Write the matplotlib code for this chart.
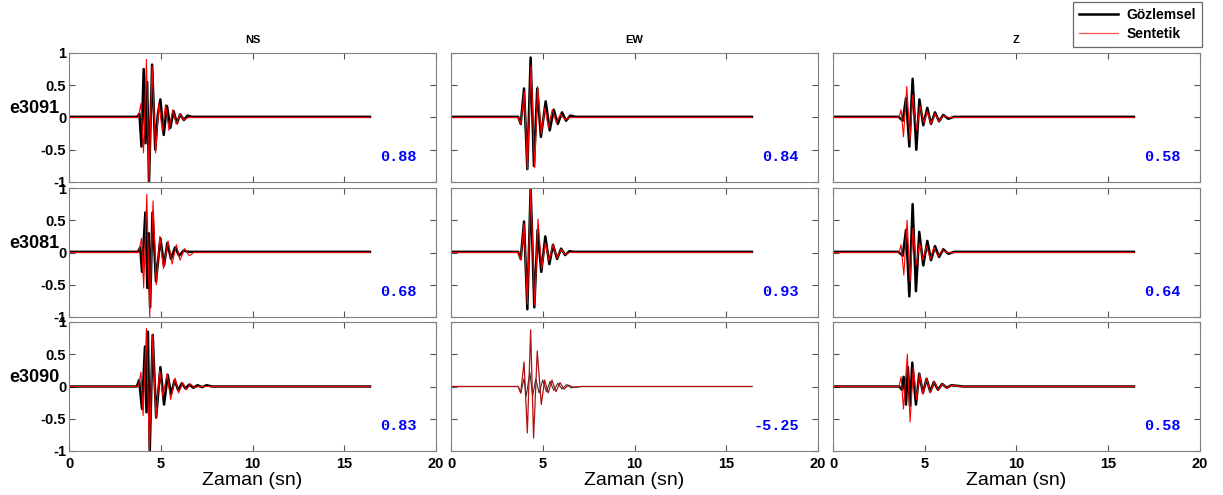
import matplotlib
matplotlib.use("Agg")
import matplotlib.pyplot as plt
from matplotlib.lines import Line2D

plt.rcParams['font.family'] = ['Liberation Sans', 'DejaVu Sans']

stations = ["e3091", "e3081", "e3090"]
components = ["NS", "EW", "Z"]
fits = [["0.88", "0.84", "0.58"],
        ["0.68", "0.93", "0.64"],
        ["0.83", "-5.25", "0.58"]]
t_end = 16.4

# e3091 - NS
e3091_ns_obs_t = [0, 3.72, 3.84, 3.95, 4.07, 4.17, 4.26, 4.36, 4.53, 4.70, 4.84, 4.98, 5.16, 5.34, 5.52, 5.70, 5.88, 6.06, 6.26, 6.46, 6.70, t_end]
e3091_ns_obs_y = [0.01, 0.01, 0.06, -0.45, 0.75, -0.40, 0.55, -1.0, 0.82, -0.50, 0.05, 0.28, -0.27, 0.18, -0.16, 0.10, -0.09, 0.05, -0.04, 0.03, 0.01, 0.01]
e3091_ns_syn_t = [0, 3.78, 3.92, 4.06, 4.22, 4.36, 4.53, 4.72, 4.90, 5.08, 5.26, 5.45, 5.65, 5.85, 6.05, 6.25, 6.50, t_end]
e3091_ns_syn_y = [0, 0, 0.22, -0.55, 0.90, -1.0, 0.80, -0.55, 0.22, -0.20, 0.20, -0.20, 0.12, -0.10, 0.06, -0.04, 0, 0]
# e3091 - EW
e3091_ew_obs_t = [0, 3.66, 3.80, 3.98, 4.16, 4.34, 4.52, 4.70, 4.90, 5.16, 5.38, 5.60, 5.82, 6.05, 6.27, 6.50, 6.80, t_end]
e3091_ew_obs_y = [0.01, 0.01, -0.10, 0.45, -0.80, 0.93, -0.75, 0.45, -0.30, 0.25, -0.20, 0.12, -0.10, 0.08, -0.05, 0.03, 0.01, 0.01]
e3091_ew_syn_t = [0, 3.66, 3.80, 4.00, 4.16, 4.36, 4.56, 4.72, 4.92, 5.12, 5.30, 5.52, 5.74, 5.96, 6.20, 6.50, t_end]
e3091_ew_syn_y = [0, 0, -0.10, 0.40, -0.80, 0.80, -0.78, 0.48, -0.25, 0.15, -0.15, 0.12, -0.08, 0.05, -0.03, 0, 0]
# e3091 - Z
e3091_z_obs_t = [0, 3.57, 3.80, 3.98, 4.16, 4.34, 4.54, 4.71, 4.92, 5.14, 5.34, 5.56, 5.78, 6.01, 6.28, 6.60, t_end]
e3091_z_obs_y = [0.01, 0.01, -0.05, 0.30, -0.45, 0.60, -0.50, 0.28, -0.12, 0.15, -0.10, 0.08, -0.06, 0.04, -0.02, 0.01, 0.01]
e3091_z_syn_t = [0, 3.60, 3.71, 3.84, 4.02, 4.20, 4.34, 4.56, 4.74, 4.96, 5.14, 5.34, 5.56, 5.78, 6.01, 6.30, t_end]
e3091_z_syn_y = [0, 0, 0.12, -0.30, 0.48, -0.35, 0.35, -0.20, 0.18, -0.08, 0.10, -0.10, 0.06, -0.06, 0.03, 0, 0]

# e3081 - NS
e3081_ns_obs_t = [0, 3.76, 3.88, 3.98, 4.16, 4.27, 4.34, 4.42, 4.55, 4.74, 4.98, 5.18, 5.36, 5.56, 5.78, 6.00, 6.25, 6.50, t_end]
e3081_ns_obs_y = [0.01, 0.01, 0.08, -0.30, 0.62, -0.55, 0.30, -0.85, 0.62, -0.45, 0.22, -0.20, 0.15, -0.10, 0.08, -0.05, 0.03, 0.01, 0.01]
e3081_ns_syn_t = [0, 3.80, 3.95, 4.07, 4.24, 4.40, 4.58, 4.76, 4.95, 5.15, 5.40, 5.62, 5.85, 6.05, 6.30, 6.55, 6.80, t_end]
e3081_ns_syn_y = [0, 0, 0.22, -0.55, 0.90, -1.0, 0.80, -0.50, 0.25, -0.25, 0.18, -0.18, 0.12, -0.12, 0.06, -0.05, 0, 0]
# e3081 - EW
e3081_ew_obs_t = [0, 3.66, 3.80, 3.98, 4.16, 4.34, 4.54, 4.72, 4.92, 5.14, 5.36, 5.56, 5.78, 6.00, 6.22, 6.45, 6.70, t_end]
e3081_ew_obs_y = [0.01, 0.01, -0.10, 0.48, -0.88, 1.0, -0.85, 0.35, -0.30, 0.25, -0.18, 0.12, -0.10, 0.06, -0.04, 0.02, 0.01, 0.01]
e3081_ew_syn_t = [0, 3.66, 3.80, 3.98, 4.16, 4.34, 4.56, 4.74, 4.94, 5.14, 5.34, 5.56, 5.78, 6.00, 6.22, 6.45, t_end]
e3081_ew_syn_y = [0, 0, -0.12, 0.45, -0.80, 0.98, -0.82, 0.52, -0.25, 0.15, -0.12, 0.12, -0.08, 0.05, -0.03, 0, 0]
# e3081 - Z
e3081_z_obs_t = [0, 3.57, 3.80, 3.98, 4.16, 4.34, 4.52, 4.70, 4.92, 5.14, 5.34, 5.56, 5.78, 6.01, 6.28, 6.60, t_end]
e3081_z_obs_y = [0.01, 0.01, -0.05, 0.35, -0.68, 0.75, -0.60, 0.32, -0.20, 0.18, -0.12, 0.10, -0.07, 0.05, -0.02, 0.01, 0.01]
e3081_z_syn_t = [0, 3.60, 3.71, 3.86, 4.04, 4.20, 4.36, 4.54, 4.72, 4.90, 5.10, 5.30, 5.50, 5.72, 5.95, 6.20, t_end]
e3081_z_syn_y = [0, 0, 0.12, -0.35, 0.50, -0.45, 0.38, -0.20, 0.15, -0.12, 0.10, -0.10, 0.08, -0.06, 0.04, 0, 0]

# e3090 - NS
e3090_ns_obs_t = [0, 3.70, 3.82, 3.98, 4.14, 4.22, 4.30, 4.40, 4.56, 4.75, 4.98, 5.18, 5.38, 5.56, 5.76, 5.95, 6.15, 6.35, 6.55, 6.78, 7.00, 7.25, 7.50, 7.80, t_end]
e3090_ns_obs_y = [0, 0, 0.10, -0.35, 0.62, -0.40, 0.85, -1.0, 0.80, -0.48, 0.30, -0.28, 0.18, -0.12, 0.10, -0.06, 0.05, -0.03, 0.03, -0.02, 0.02, -0.01, 0.02, 0, 0]
e3090_ns_syn_t = [0, 3.78, 3.92, 4.04, 4.22, 4.38, 4.56, 4.74, 4.94, 5.12, 5.34, 5.54, 5.78, 5.98, 6.20, 6.40, 6.62, 6.85, 7.10, 7.80, t_end]
e3090_ns_syn_y = [0, 0, 0.22, -0.45, 0.90, -1.0, 0.80, -0.50, 0.25, -0.15, 0.20, -0.20, 0.13, -0.10, 0.06, -0.05, 0.04, -0.02, 0, 0, 0]
# e3090 - EW
e3090_ew_obs_t = [0, 3.66, 3.80, 3.98, 4.10, 4.30, 4.45, 4.62, 4.80, 5.00, 5.20, 5.40, 5.60, 5.82, 6.05, 6.30, 6.55, 7.10, t_end]
e3090_ew_obs_y = [0, 0, -0.10, 0.12, -0.15, 0.22, -0.15, 0.12, -0.10, 0.10, -0.08, 0.08, -0.06, 0.05, -0.04, 0.03, -0.02, 0, 0]
e3090_ew_syn_t = [0, 3.66, 3.80, 3.98, 4.16, 4.34, 4.50, 4.70, 4.92, 5.10, 5.30, 5.50, 5.72, 5.94, 6.16, 6.40, 6.65, 7.10, t_end]
e3090_ew_syn_y = [0, 0, -0.10, 0.38, -0.72, 0.88, -0.80, 0.55, -0.28, 0.10, -0.10, 0.10, -0.08, 0.06, -0.04, 0.02, -0.01, 0, 0]
# e3090 - Z
e3090_z_obs_t = [0, 3.62, 3.75, 3.85, 3.98, 4.08, 4.20, 4.32, 4.52, 4.70, 4.90, 5.10, 5.30, 5.50, 5.72, 5.95, 6.20, 6.45, 7.10, t_end]
e3090_z_obs_y = [0, 0, -0.05, 0.15, -0.28, 0.30, -0.30, 0.37, -0.28, 0.20, -0.10, 0.12, -0.08, 0.07, -0.05, 0.04, -0.02, 0.02, 0, 0]
e3090_z_syn_t = [0, 3.60, 3.71, 3.84, 4.05, 4.20, 4.38, 4.55, 4.72, 4.90, 5.10, 5.30, 5.52, 5.74, 5.96, 6.20, 6.45, 6.90, t_end]
e3090_z_syn_y = [0, 0, 0.15, -0.35, 0.50, -0.55, 0.30, -0.20, 0.20, -0.12, 0.12, -0.10, 0.08, -0.06, 0.04, -0.03, 0.02, 0, 0]

traces = [
    [(e3091_ns_obs_t, e3091_ns_obs_y, e3091_ns_syn_t, e3091_ns_syn_y),
     (e3091_ew_obs_t, e3091_ew_obs_y, e3091_ew_syn_t, e3091_ew_syn_y),
     (e3091_z_obs_t, e3091_z_obs_y, e3091_z_syn_t, e3091_z_syn_y)],
    [(e3081_ns_obs_t, e3081_ns_obs_y, e3081_ns_syn_t, e3081_ns_syn_y),
     (e3081_ew_obs_t, e3081_ew_obs_y, e3081_ew_syn_t, e3081_ew_syn_y),
     (e3081_z_obs_t, e3081_z_obs_y, e3081_z_syn_t, e3081_z_syn_y)],
    [(e3090_ns_obs_t, e3090_ns_obs_y, e3090_ns_syn_t, e3090_ns_syn_y),
     (e3090_ew_obs_t, e3090_ew_obs_y, e3090_ew_syn_t, e3090_ew_syn_y),
     (e3090_z_obs_t, e3090_z_obs_y, e3090_z_syn_t, e3090_z_syn_y)],
]

W, H = 1223, 495
fig = plt.figure(figsize=(W / 100, H / 100), dpi=100)

col_left = [69, 451, 833]
row_top = [53, 188, 322]
ax_w, ax_h = 367, 129

for r in range(3):
    for c in range(3):
        ax = fig.add_axes([col_left[c] / W, 1 - (row_top[r] + ax_h) / H, ax_w / W, ax_h / H])
        ot, oy, st, sy = traces[r][c]
        if r == 2 and c == 1:
            ax.plot(ot, oy, color='#333333', lw=0.8)
            ax.plot(st, sy, color='#b01010', lw=0.9)
        else:
            ax.plot(ot, oy, color='black', lw=1.8)
            ax.plot(st, sy, color='red', lw=0.8)
        ax.set_xlim(0, 20)
        ax.set_ylim(-1, 1)
        ax.set_xticks([0, 5, 10, 15, 20])
        ax.set_yticks([-1, -0.5, 0, 0.5, 1])
        ax.set_yticklabels(['-1', '-0.5', '0', '0.5', '1'])
        ax.tick_params(direction='in', length=4, top=True, right=True,
                       color='#555555', labelsize=10.5, pad=2)
        ax.tick_params(axis='x', pad=4)
        for lab in ax.get_xticklabels() + ax.get_yticklabels():
            lab.set_fontweight('bold')
        for sp in ax.spines.values():
            sp.set_color('#808080')
        if c != 0:
            ax.set_yticklabels([])
        if r != 2:
            ax.set_xticklabels([])
        else:
            ax.set_xlabel('Zaman (sn)', fontsize=14, labelpad=1)
        if r == 0:
            ax.set_title(components[c], fontsize=8, fontweight='bold', pad=7)
        if c == 0:
            ax.text(-0.162, 0.57, stations[r], transform=ax.transAxes, fontsize=13,
                    fontweight='bold', ha='left', va='center')
        ax.text(0.948, 0.19, fits[r][c], transform=ax.transAxes, color='blue',
                family='Liberation Mono', fontweight='bold', fontsize=11,
                ha='right', va='center')

handles = [Line2D([], [], color='black', lw=1.8), Line2D([], [], color='#ff5050', lw=0.9)]
leg = fig.legend(handles, ['Gözlemsel', 'Sentetik'], loc='upper right',
                 bbox_to_anchor=(1202 / W, 1 - 2 / H), borderaxespad=0, fancybox=False,
                 prop={'weight': 'bold', 'size': 10}, borderpad=0.45,
                 labelspacing=0.35, handlelength=2.8, handletextpad=0.6)
leg.get_frame().set_edgecolor('#444444')
leg.get_frame().set_linewidth(0.9)

fig.savefig('out.png', dpi=100)
